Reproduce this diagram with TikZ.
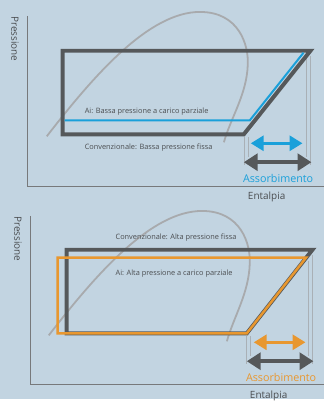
\documentclass[tikz,border=0pt]{standalone}
\usepackage{fontspec}
\setmainfont{Open Sans}
\usetikzlibrary{arrows.meta}
\definecolor{bg}{HTML}{C2D4E1}
\definecolor{dk}{HTML}{55585A}
\definecolor{bl}{HTML}{1AA0DA}
\definecolor{og}{HTML}{E8972F}
\definecolor{cv}{HTML}{A8AAAD}
\definecolor{gl}{HTML}{A9B0B6}
\definecolor{tx}{HTML}{4A4D50}
\tikzset{
  axis/.style={draw=dk!80, line width=0.9pt},
  cycle/.style={draw=dk, line width=4pt, miter limit=20},
  satcurve/.style={draw=cv, line width=1.8pt},
  guide/.style={draw=gl, line width=0.9pt},
  small/.style={font=\fontsize{7.4}{8}\selectfont, text=tx, inner sep=0pt},
  axlabel/.style={font=\fontsize{10}{12}\selectfont, text=tx, inner sep=0pt},
  absorb/.style={font=\fontsize{10.8}{12}\selectfont, inner sep=0pt},
  bigarrow/.style={line width=4pt, {Triangle[length=14pt,width=17pt]}-{Triangle[length=14pt,width=17pt]}},
  midarrow/.style={line width=3.5pt, {Triangle[length=13pt,width=15pt]}-{Triangle[length=13pt,width=15pt]}},
}
\begin{document}
\begin{tikzpicture}[x=1pt,y=-1pt]
\path[fill=bg] (0,0) rectangle (326,401);
% ---------------- top panel ----------------
\coordinate (ta0) at (28,16);
\coordinate (ta1) at (28,187);
\coordinate (ta2) at (326,187);
\draw[axis] (ta0) -- (ta1) -- (ta2);
\node[axlabel, rotate=-90] (tp) at (15,39) {Pressione};
\node[axlabel] (te) at (268,198) {Entalpia};
% guides
\draw[guide] (246,138) -- (246,166);
\draw[guide] (249.5,138) -- (249.5,158);
\draw[guide] (307.5,56) -- (307.5,158);
\draw[guide] (311.5,56) -- (311.5,166);
% saturation curve
\draw[satcurve] (47,137) .. controls (95,75) and (150,12) .. (201,12)
  .. controls (240,12) and (250,45) .. (249,65)
  .. controls (248,95) and (232,118) .. (225,143);
% cycle
\draw[cycle] (63,51) -- (312,51) -- (245,135) -- (63,135) -- cycle;
\draw[bl, line width=2pt] (65,121) -- (251,121) -- (305,53);
\node[small, anchor=west] (tai) at (85,112) {Ai: Bassa pressione a carico parziale};
\node[small, anchor=west] (tconv) at (85,148) {Convenzionale: Bassa pressione fissa};
\coordinate (tb1) at (252,144);
\coordinate (tb2) at (304,144);
\draw[midarrow, bl] (tb1) -- (tb2);
\coordinate (td1) at (245,163);
\coordinate (td2) at (313,163);
\draw[bigarrow, dk] (td1) -- (td2);
\node[absorb, text=bl] (tabs) at (279.5,179) {Assorbimento};
% ---------------- bottom panel ----------------
\coordinate (ba0) at (31,217);
\coordinate (ba1) at (31,386);
\coordinate (ba2) at (326,386);
\draw[axis] (ba0) -- (ba1) -- (ba2);
\node[axlabel, rotate=-90] (bp) at (18,240) {Pressione};
\node[axlabel] (be) at (270,398) {Entalpia};
\draw[guide] (248,338) -- (248,366);
\draw[guide] (251.5,338) -- (251.5,358);
\draw[guide] (309.5,262) -- (309.5,358);
\draw[guide] (313.5,256) -- (313.5,366);
\draw[satcurve] (49,337) .. controls (97,275) and (152,212) .. (203,212)
  .. controls (242,212) and (252,245) .. (251,265)
  .. controls (250,295) and (235,318) .. (228,343);
\draw[cycle] (67,251) -- (314,251) -- (248,335) -- (67,335) -- cycle;
\draw[og, line width=2.5pt, miter limit=20] (58,259) -- (307.5,259) -- (248,335) -- (58,335) -- cycle;
\node[small, anchor=west] (bconv) at (116,239) {Convenzionale: Alta pressione fissa};
\node[small, anchor=west] (bai) at (116,275) {Ai: Alta pressione a carico parziale};
\coordinate (bo1) at (255,344);
\coordinate (bo2) at (307,344);
\draw[midarrow, og] (bo1) -- (bo2);
\coordinate (bd1) at (248,363);
\coordinate (bd2) at (315,363);
\draw[bigarrow, dk] (bd1) -- (bd2);
\node[absorb, text=og] (babs) at (282.5,379) {Assorbimento};
\end{tikzpicture}
\end{document}
